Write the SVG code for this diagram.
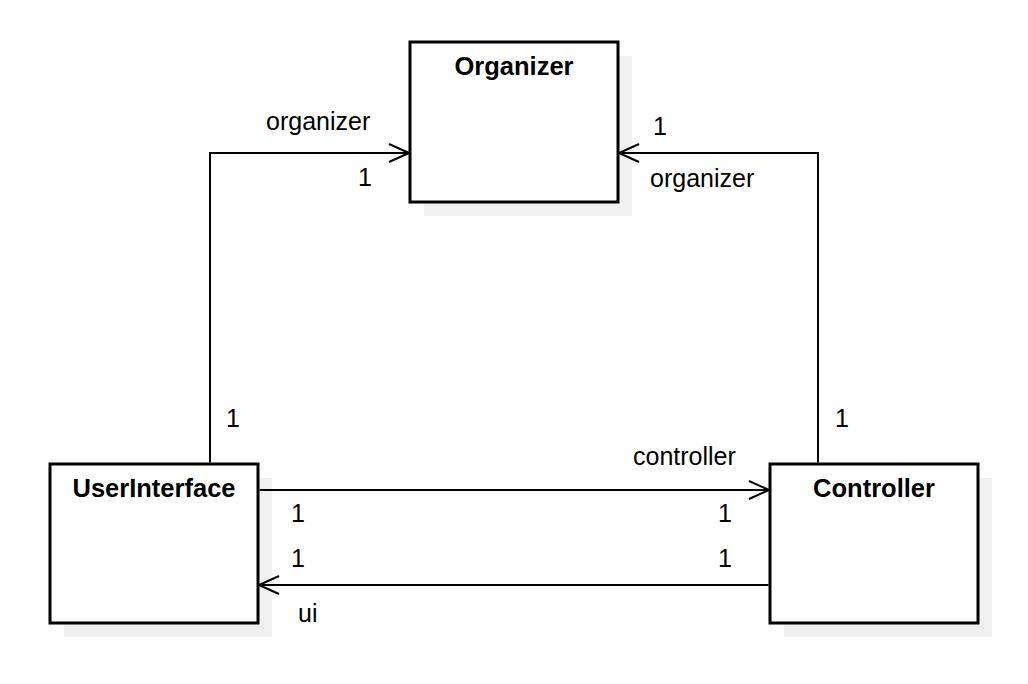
<svg xmlns="http://www.w3.org/2000/svg" width="1028" height="684" viewBox="0 0 1028 684">
<defs>
<style>
.shadow{fill:#f0f0f0;stroke:none}
.box{fill:#ffffff;stroke:#000000;stroke-width:3}
.title{font-family:"Liberation Sans",Arial,sans-serif;font-size:25.5px;font-weight:bold;fill:#000;text-anchor:middle}
.lbl{font-family:"Liberation Sans",Arial,sans-serif;font-size:25px;fill:#000}
.edge{fill:none;stroke:#000;stroke-width:2}
</style>
<marker id="open" viewBox="0 0 24 20" refX="22" refY="10" markerWidth="24" markerHeight="20" markerUnits="userSpaceOnUse" orient="auto">
<path d="M2,1 L22,10 L2,19" fill="none" stroke="#000" stroke-width="2"/>
</marker>
</defs>
<rect width="1028" height="684" fill="#ffffff"/>
<g id="organizer">
<rect class="shadow" x="424" y="56" width="208" height="160"/>
<rect class="box" x="410" y="42" width="208" height="160"/>
<text class="title" x="514" y="75">Organizer</text>
</g>
<g id="userinterface">
<rect class="shadow" x="64" y="478" width="208" height="159"/>
<rect class="box" x="50" y="464" width="208" height="159"/>
<text class="title" x="154" y="497">UserInterface</text>
</g>
<g id="controller">
<rect class="shadow" x="784" y="478" width="208" height="159"/>
<rect class="box" x="770" y="464" width="208" height="159"/>
<text class="title" x="874" y="497">Controller</text>
</g>
<g id="connectors">
<path class="edge" d="M210,462.5 L210,153 L409,153" marker-end="url(#open)"/>
<path class="edge" d="M818,462.5 L818,153 L619,153" marker-end="url(#open)"/>
<path class="edge" d="M259.5,490 L769,490" marker-end="url(#open)"/>
<path class="edge" d="M768.5,585 L259,585" marker-end="url(#open)"/>
<text class="lbl" x="266" y="130">organizer</text>
<text class="lbl" x="358" y="186">1</text>
<text class="lbl" x="653" y="135">1</text>
<text class="lbl" x="650" y="187">organizer</text>
<text class="lbl" x="226" y="427">1</text>
<text class="lbl" x="835" y="427">1</text>
<text class="lbl" x="633" y="465">controller</text>
<text class="lbl" x="291" y="522">1</text>
<text class="lbl" x="291" y="567">1</text>
<text class="lbl" x="718" y="522">1</text>
<text class="lbl" x="718" y="567">1</text>
<text class="lbl" x="298" y="622">ui</text>
</g>
</svg>
